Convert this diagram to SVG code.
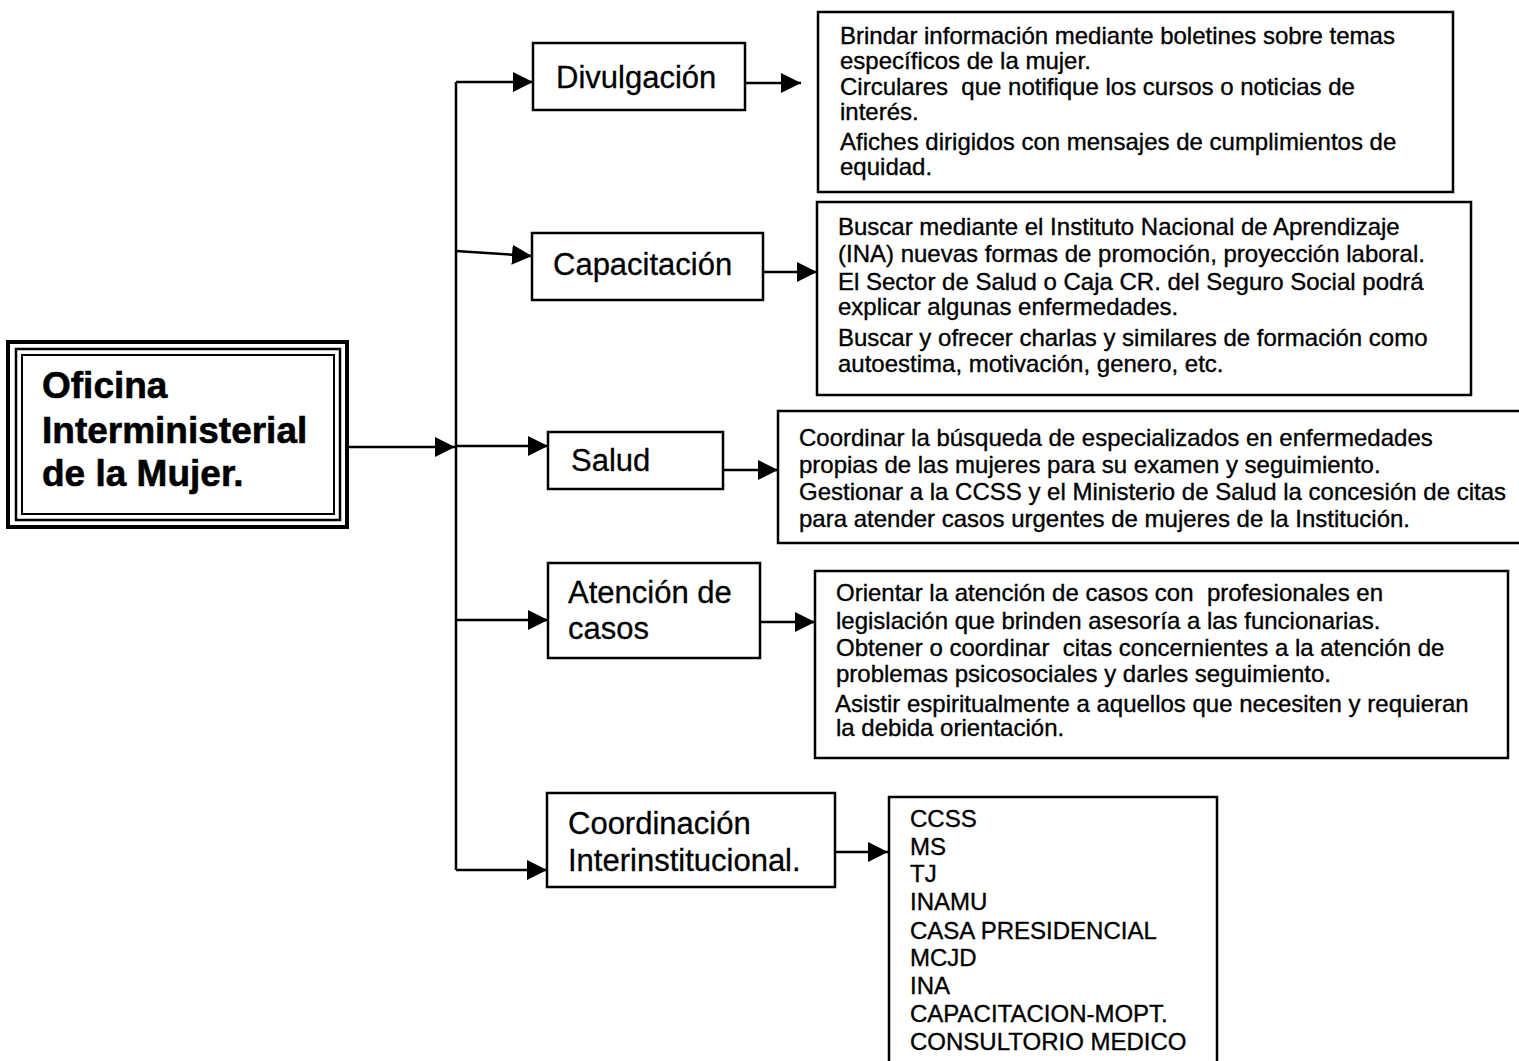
<svg xmlns="http://www.w3.org/2000/svg" width="1519" height="1061" viewBox="0 0 1519 1061">
<style>
  .box { fill: #fff; stroke: #000; stroke-width: 2.5; }
  .conn { fill: none; stroke: #000; stroke-width: 2.5; }
  .lbl { font-family: "Liberation Sans", Arial, sans-serif; font-size: 31px; fill: #000; stroke: #000; stroke-width: 0.3; }
  .main { font-family: "Liberation Sans", Arial, sans-serif; font-size: 37px; font-weight: bold; fill: #000; stroke: #000; stroke-width: 0.6; }
  .body { font-family: "Liberation Sans", Arial, sans-serif; font-size: 24px; fill: #000; stroke: #000; stroke-width: 0.35; white-space: pre; }
</style>
<defs>
  <marker id="arr" viewBox="0 0 20 20" refX="20" refY="10" markerWidth="20" markerHeight="20" markerUnits="userSpaceOnUse" orient="auto">
    <path d="M0,0 L20,10 L0,20 Z" fill="#000"/>
  </marker>
</defs>
<rect width="1519" height="1061" fill="#fff"/>

<g id="connectors">
  <path class="conn" d="M349,447 L455,447" marker-end="url(#arr)"/>
  <path class="conn" d="M456,82 L456,870"/>
  <path class="conn" d="M456,82 L533,82" marker-end="url(#arr)"/>
  <path class="conn" d="M456,251 L532,256" marker-end="url(#arr)"/>
  <path class="conn" d="M456,446 L548,446" marker-end="url(#arr)"/>
  <path class="conn" d="M456,620 L548,620" marker-end="url(#arr)"/>
  <path class="conn" d="M456,870 L547,870" marker-end="url(#arr)"/>
  <path class="conn" d="M745,83 L801,83" marker-end="url(#arr)"/>
  <path class="conn" d="M763,272 L817,272" marker-end="url(#arr)"/>
  <path class="conn" d="M723,470 L778,470" marker-end="url(#arr)"/>
  <path class="conn" d="M760,622 L815,622" marker-end="url(#arr)"/>
  <path class="conn" d="M835,852 L888,852" marker-end="url(#arr)"/>
</g>

<g id="oficina">
  <rect x="8" y="342" width="339" height="185" fill="#fff" stroke="#000" stroke-width="4"/>
  <rect x="16" y="349" width="324" height="171" fill="none" stroke="#000" stroke-width="2.5"/>
  <rect x="22" y="355" width="312" height="159" fill="none" stroke="#000" stroke-width="2"/>
  <text class="main" x="42" y="398">Oficina</text>
  <text class="main" x="42" y="443">Interministerial</text>
  <text class="main" x="42" y="486">de la Mujer.</text>
</g>

<g id="divulgacion">
  <rect class="box" x="533" y="43" width="212" height="67"/>
  <text class="lbl" x="556" y="88">Divulgación</text>
</g>
<g id="capacitacion">
  <rect class="box" x="532" y="233" width="231" height="67"/>
  <text class="lbl" x="553" y="275">Capacitación</text>
</g>
<g id="salud">
  <rect class="box" x="548" y="432" width="175" height="57"/>
  <text class="lbl" x="571" y="471">Salud</text>
</g>
<g id="atencion">
  <rect class="box" x="548" y="563" width="212" height="95"/>
  <text class="lbl" x="568" y="603">Atención de</text>
  <text class="lbl" x="568" y="639">casos</text>
</g>
<g id="coordinacion">
  <rect class="box" x="547" y="793" width="288" height="94"/>
  <text class="lbl" x="568" y="834">Coordinación</text>
  <text class="lbl" x="568" y="871">Interinstitucional.</text>
</g>

<g id="detalle-divulgacion">
  <rect class="box" x="818" y="12" width="635" height="180"/>
  <text class="body" x="840" y="44">Brindar información mediante boletines sobre temas</text>
  <text class="body" x="840" y="69">específicos de la mujer.</text>
  <text class="body" x="840" y="95" xml:space="preserve">Circulares  que notifique los cursos o noticias de</text>
  <text class="body" x="840" y="120">interés.</text>
  <text class="body" x="840" y="150">Afiches dirigidos con mensajes de cumplimientos de</text>
  <text class="body" x="840" y="175">equidad.</text>
</g>
<g id="detalle-capacitacion">
  <rect class="box" x="817" y="202" width="654" height="193"/>
  <text class="body" x="838" y="235">Buscar mediante el Instituto Nacional de Aprendizaje</text>
  <text class="body" x="838" y="262">(INA) nuevas formas de promoción, proyección laboral.</text>
  <text class="body" x="838" y="290">El Sector de Salud o Caja CR. del Seguro Social podrá</text>
  <text class="body" x="838" y="315">explicar algunas enfermedades.</text>
  <text class="body" x="838" y="346">Buscar y ofrecer charlas y similares de formación como</text>
  <text class="body" x="838" y="372">autoestima, motivación, genero, etc.</text>
</g>
<g id="detalle-salud">
  <rect class="box" x="778" y="411" width="745" height="132"/>
  <text class="body" x="799" y="446">Coordinar la búsqueda de especializados en enfermedades</text>
  <text class="body" x="799" y="473">propias de las mujeres para su examen y seguimiento.</text>
  <text class="body" x="799" y="500">Gestionar a la CCSS y el Ministerio de Salud la concesión de citas</text>
  <text class="body" x="799" y="527">para atender casos urgentes de mujeres de la Institución.</text>
</g>
<g id="detalle-atencion">
  <rect class="box" x="815" y="571" width="693" height="187"/>
  <text class="body" x="836" y="601" xml:space="preserve">Orientar la atención de casos con  profesionales en</text>
  <text class="body" x="836" y="629">legislación que brinden asesoría a las funcionarias.</text>
  <text class="body" x="836" y="656" xml:space="preserve">Obtener o coordinar  citas concernientes a la atención de</text>
  <text class="body" x="836" y="682">problemas psicosociales y darles seguimiento.</text>
  <text class="body" x="835" y="712">Asistir espiritualmente a aquellos que necesiten y requieran</text>
  <text class="body" x="836" y="736">la debida orientación.</text>
</g>
<g id="detalle-coordinacion">
  <rect class="box" x="889" y="797" width="328" height="266"/>
  <text class="body" x="910" y="827">CCSS</text>
  <text class="body" x="910" y="855">MS</text>
  <text class="body" x="910" y="882">TJ</text>
  <text class="body" x="910" y="910">INAMU</text>
  <text class="body" x="910" y="939">CASA PRESIDENCIAL</text>
  <text class="body" x="910" y="966">MCJD</text>
  <text class="body" x="910" y="994">INA</text>
  <text class="body" x="910" y="1022">CAPACITACION-MOPT.</text>
  <text class="body" x="910" y="1050">CONSULTORIO MEDICO</text>
</g>
</svg>
